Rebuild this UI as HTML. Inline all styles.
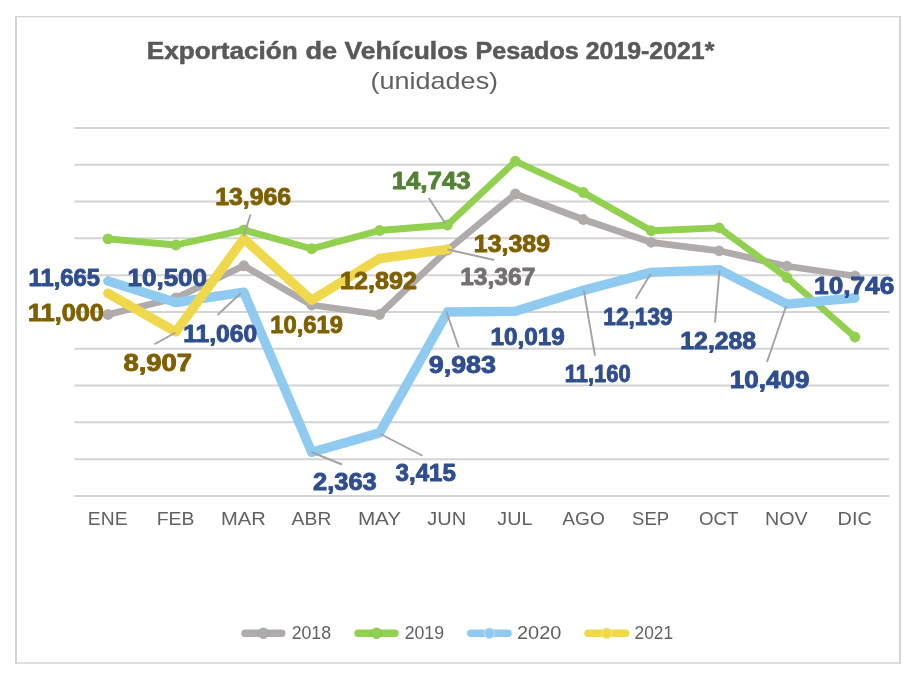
<!DOCTYPE html>
<html lang="es"><head><meta charset="utf-8"><title>Exportación de Vehículos Pesados 2019-2021</title>
<style>
html,body{margin:0;padding:0;background:#fff;}
body{width:920px;height:680px;overflow:hidden;font-family:"Liberation Sans",sans-serif;}
svg{display:block}
text{font-family:"Liberation Sans",sans-serif;}
</style></head><body>
<svg width="920" height="680" viewBox="0 0 920 680">
<rect x="0" y="0" width="920" height="680" fill="#fff"/>
<g stroke="#d3d3d3" fill="none">
<line x1="16" y1="16" x2="16" y2="663.8" stroke-width="1.9"/>
<line x1="900" y1="16" x2="900" y2="663.8" stroke-width="1.9"/>
<line x1="15.05" y1="16.6" x2="900.95" y2="16.6" stroke-width="1.2"/>
<line x1="15.05" y1="663" x2="900.95" y2="663" stroke-width="1.6"/>
</g>
<line x1="74.3" x2="889.2" y1="127.95" y2="127.95" stroke="#d4d4d4" stroke-width="2"/>
<line x1="74.3" x2="889.2" y1="164.75" y2="164.75" stroke="#d4d4d4" stroke-width="2"/>
<line x1="74.3" x2="889.2" y1="201.55" y2="201.55" stroke="#d4d4d4" stroke-width="2"/>
<line x1="74.3" x2="889.2" y1="238.35" y2="238.35" stroke="#d4d4d4" stroke-width="2"/>
<line x1="74.3" x2="889.2" y1="275.15" y2="275.15" stroke="#d4d4d4" stroke-width="2"/>
<line x1="74.3" x2="889.2" y1="311.95" y2="311.95" stroke="#d4d4d4" stroke-width="2"/>
<line x1="74.3" x2="889.2" y1="348.75" y2="348.75" stroke="#d4d4d4" stroke-width="2"/>
<line x1="74.3" x2="889.2" y1="385.55" y2="385.55" stroke="#d4d4d4" stroke-width="2"/>
<line x1="74.3" x2="889.2" y1="422.35" y2="422.35" stroke="#d4d4d4" stroke-width="2"/>
<line x1="74.3" x2="889.2" y1="459.15" y2="459.15" stroke="#d4d4d4" stroke-width="2"/>
<line x1="74.3" x2="889.2" y1="495.95" y2="495.95" stroke="#d4d4d4" stroke-width="2"/>
<text y="59.35" font-size="23.3" font-weight="bold" fill="#595959" stroke="#595959" stroke-width="0.5" stroke-linejoin="round"><tspan x="146.71" textLength="151.03" lengthAdjust="spacingAndGlyphs">Exportación</tspan> <tspan x="305.52" textLength="31.64" lengthAdjust="spacingAndGlyphs">de</tspan> <tspan x="344.62" textLength="123.36" lengthAdjust="spacingAndGlyphs">Vehículos</tspan> <tspan x="475.46" textLength="103.32" lengthAdjust="spacingAndGlyphs">Pesados</tspan> <tspan x="585.74" textLength="128.65" lengthAdjust="spacingAndGlyphs">2019-2021*</tspan></text>
<text x="370.60" y="88.75" font-size="24.00" fill="#616161" textLength="127.52" lengthAdjust="spacingAndGlyphs">(unidades)</text>
<polyline points="108.00,314.50 175.90,298.00 243.80,265.75 311.70,305.00 379.60,314.50 447.50,250.00 515.40,194.00 583.30,219.50 651.20,242.30 719.10,250.80 787.00,266.25 854.90,276.00" fill="none" stroke="#AFABAB" stroke-width="6.8" stroke-linecap="round" stroke-linejoin="round"/>
<circle cx="108.00" cy="314.50" r="5.4" fill="#AFABAB"/><circle cx="175.90" cy="298.00" r="5.4" fill="#AFABAB"/><circle cx="243.80" cy="265.75" r="5.4" fill="#AFABAB"/><circle cx="311.70" cy="305.00" r="5.4" fill="#AFABAB"/><circle cx="379.60" cy="314.50" r="5.4" fill="#AFABAB"/><circle cx="447.50" cy="250.00" r="5.4" fill="#AFABAB"/><circle cx="515.40" cy="194.00" r="5.4" fill="#AFABAB"/><circle cx="583.30" cy="219.50" r="5.4" fill="#AFABAB"/><circle cx="651.20" cy="242.30" r="5.4" fill="#AFABAB"/><circle cx="719.10" cy="250.80" r="5.4" fill="#AFABAB"/><circle cx="787.00" cy="266.25" r="5.4" fill="#AFABAB"/><circle cx="854.90" cy="276.00" r="5.4" fill="#AFABAB"/>
<polyline points="108.00,238.90 175.90,245.00 243.80,230.00 311.70,248.75 379.60,230.50 447.50,225.00 515.40,161.25 583.30,192.50 651.20,230.75 719.10,227.80 787.00,277.50 854.90,337.00" fill="none" stroke="#92D050" stroke-width="6.8" stroke-linecap="round" stroke-linejoin="round"/>
<circle cx="108.00" cy="238.90" r="5.4" fill="#92D050"/><circle cx="175.90" cy="245.00" r="5.4" fill="#92D050"/><circle cx="243.80" cy="230.00" r="5.4" fill="#92D050"/><circle cx="311.70" cy="248.75" r="5.4" fill="#92D050"/><circle cx="379.60" cy="230.50" r="5.4" fill="#92D050"/><circle cx="447.50" cy="225.00" r="5.4" fill="#92D050"/><circle cx="515.40" cy="161.25" r="5.4" fill="#92D050"/><circle cx="583.30" cy="192.50" r="5.4" fill="#92D050"/><circle cx="651.20" cy="230.75" r="5.4" fill="#92D050"/><circle cx="719.10" cy="227.80" r="5.4" fill="#92D050"/><circle cx="787.00" cy="277.50" r="5.4" fill="#92D050"/><circle cx="854.90" cy="337.00" r="5.4" fill="#92D050"/>
<polyline points="108.00,281.06 175.90,302.50 243.80,292.20 311.70,452.22 379.60,432.86 447.50,312.01 515.40,311.35 583.30,290.36 651.20,272.34 719.10,269.60 787.00,304.17 854.90,297.97" fill="none" stroke="#8FCBF0" stroke-width="9.4" stroke-linecap="round" stroke-linejoin="round"/>
<circle cx="108.00" cy="281.06" r="4.5" fill="#8FCBF0"/><circle cx="175.90" cy="302.50" r="4.5" fill="#8FCBF0"/><circle cx="243.80" cy="292.20" r="4.5" fill="#8FCBF0"/><circle cx="311.70" cy="452.22" r="4.5" fill="#8FCBF0"/><circle cx="379.60" cy="432.86" r="4.5" fill="#8FCBF0"/><circle cx="447.50" cy="312.01" r="4.5" fill="#8FCBF0"/><circle cx="515.40" cy="311.35" r="4.5" fill="#8FCBF0"/><circle cx="583.30" cy="290.36" r="4.5" fill="#8FCBF0"/><circle cx="651.20" cy="272.34" r="4.5" fill="#8FCBF0"/><circle cx="719.10" cy="269.60" r="4.5" fill="#8FCBF0"/><circle cx="787.00" cy="304.17" r="4.5" fill="#8FCBF0"/><circle cx="854.90" cy="297.97" r="4.5" fill="#8FCBF0"/>
<polyline points="108.00,293.30 175.90,331.81 243.80,238.73 311.70,300.31 379.60,258.49 447.50,249.34" fill="none" stroke="#EFD84C" stroke-width="9.4" stroke-linecap="round" stroke-linejoin="round"/>
<circle cx="108.00" cy="293.30" r="4.5" fill="#EFD84C"/><circle cx="175.90" cy="331.81" r="4.5" fill="#EFD84C"/><circle cx="243.80" cy="238.73" r="4.5" fill="#EFD84C"/><circle cx="311.70" cy="300.31" r="4.5" fill="#EFD84C"/><circle cx="379.60" cy="258.49" r="4.5" fill="#EFD84C"/><circle cx="447.50" cy="249.34" r="4.5" fill="#EFD84C"/>
<line x1="250.5" y1="214.5" x2="243.75" y2="236" stroke="#a3a3a3" stroke-width="1.9"/>
<line x1="217.5" y1="315" x2="241" y2="293" stroke="#a3a3a3" stroke-width="1.9"/>
<line x1="428.75" y1="198" x2="445.5" y2="223.75" stroke="#a3a3a3" stroke-width="1.9"/>
<line x1="447.5" y1="249.5" x2="494.25" y2="260" stroke="#a3a3a3" stroke-width="1.9"/>
<line x1="175.5" y1="332.5" x2="154.5" y2="344.25" stroke="#a3a3a3" stroke-width="1.9"/>
<line x1="311.25" y1="452" x2="342" y2="464.5" stroke="#a3a3a3" stroke-width="1.9"/>
<line x1="380" y1="433.75" x2="422.5" y2="455.75" stroke="#a3a3a3" stroke-width="1.9"/>
<line x1="446.25" y1="311.25" x2="458.75" y2="347.5" stroke="#a3a3a3" stroke-width="1.9"/>
<line x1="583.75" y1="290" x2="595" y2="355.75" stroke="#a3a3a3" stroke-width="1.9"/>
<line x1="650.75" y1="273.75" x2="635.5" y2="298.75" stroke="#a3a3a3" stroke-width="1.9"/>
<line x1="719.5" y1="270" x2="715" y2="322.5" stroke="#a3a3a3" stroke-width="1.9"/>
<line x1="786.25" y1="305.75" x2="767" y2="362" stroke="#a3a3a3" stroke-width="1.9"/>
<text font-weight="bold" x="28.48" y="285.60" font-size="23.20" fill="#2F4E8F" stroke="#2F4E8F" stroke-width="0.9" stroke-linejoin="round" textLength="71.67" lengthAdjust="spacingAndGlyphs">11,665</text>
<text font-weight="bold" x="127.49" y="286.40" font-size="23.20" fill="#2F4E8F" stroke="#2F4E8F" stroke-width="0.9" stroke-linejoin="round" textLength="79.57" lengthAdjust="spacingAndGlyphs">10,500</text>
<text font-weight="bold" x="28.06" y="320.50" font-size="23.20" fill="#7F6000" stroke="#7F6000" stroke-width="0.9" stroke-linejoin="round" textLength="75.64" lengthAdjust="spacingAndGlyphs">11,000</text>
<text font-weight="bold" x="215.31" y="204.50" font-size="23.20" fill="#7F6000" stroke="#7F6000" stroke-width="0.9" stroke-linejoin="round" textLength="75.79" lengthAdjust="spacingAndGlyphs">13,966</text>
<text font-weight="bold" x="270.20" y="332.50" font-size="23.20" fill="#7F6000" stroke="#7F6000" stroke-width="0.9" stroke-linejoin="round" textLength="72.71" lengthAdjust="spacingAndGlyphs">10,619</text>
<text font-weight="bold" x="183.19" y="341.60" font-size="23.20" fill="#2F4E8F" stroke="#2F4E8F" stroke-width="0.9" stroke-linejoin="round" textLength="73.93" lengthAdjust="spacingAndGlyphs">11,060</text>
<text font-weight="bold" x="340.04" y="288.50" font-size="23.20" fill="#7F6000" stroke="#7F6000" stroke-width="0.9" stroke-linejoin="round" textLength="76.87" lengthAdjust="spacingAndGlyphs">12,892</text>
<text font-weight="bold" x="391.65" y="188.50" font-size="23.20" fill="#548235" stroke="#548235" stroke-width="0.9" stroke-linejoin="round" textLength="78.98" lengthAdjust="spacingAndGlyphs">14,743</text>
<text font-weight="bold" x="473.87" y="251.50" font-size="23.20" fill="#7F6000" stroke="#7F6000" stroke-width="0.9" stroke-linejoin="round" textLength="76.15" lengthAdjust="spacingAndGlyphs">13,389</text>
<text font-weight="bold" x="460.17" y="285.40" font-size="23.20" fill="#767171" stroke="#767171" stroke-width="0.9" stroke-linejoin="round" textLength="75.22" lengthAdjust="spacingAndGlyphs">13,367</text>
<text font-weight="bold" x="123.44" y="370.60" font-size="23.20" fill="#7F6000" stroke="#7F6000" stroke-width="0.9" stroke-linejoin="round" textLength="68.55" lengthAdjust="spacingAndGlyphs">8,907</text>
<text font-weight="bold" x="313.08" y="490.20" font-size="23.20" fill="#2F4E8F" stroke="#2F4E8F" stroke-width="0.9" stroke-linejoin="round" textLength="63.64" lengthAdjust="spacingAndGlyphs">2,363</text>
<text font-weight="bold" x="395.56" y="481.40" font-size="23.20" fill="#2F4E8F" stroke="#2F4E8F" stroke-width="0.9" stroke-linejoin="round" textLength="60.43" lengthAdjust="spacingAndGlyphs">3,415</text>
<text font-weight="bold" x="490.45" y="345.40" font-size="23.20" fill="#2F4E8F" stroke="#2F4E8F" stroke-width="0.9" stroke-linejoin="round" textLength="74.36" lengthAdjust="spacingAndGlyphs">10,019</text>
<text font-weight="bold" x="428.82" y="373.40" font-size="23.20" fill="#2F4E8F" stroke="#2F4E8F" stroke-width="0.9" stroke-linejoin="round" textLength="67.14" lengthAdjust="spacingAndGlyphs">9,983</text>
<text font-weight="bold" x="564.78" y="381.70" font-size="23.20" fill="#2F4E8F" stroke="#2F4E8F" stroke-width="0.9" stroke-linejoin="round" textLength="66.01" lengthAdjust="spacingAndGlyphs">11,160</text>
<text font-weight="bold" x="603.34" y="325.10" font-size="23.20" fill="#2F4E8F" stroke="#2F4E8F" stroke-width="0.9" stroke-linejoin="round" textLength="69.22" lengthAdjust="spacingAndGlyphs">12,139</text>
<text font-weight="bold" x="680.35" y="349.10" font-size="23.20" fill="#2F4E8F" stroke="#2F4E8F" stroke-width="0.9" stroke-linejoin="round" textLength="75.76" lengthAdjust="spacingAndGlyphs">12,288</text>
<text font-weight="bold" x="729.82" y="387.60" font-size="23.20" fill="#2F4E8F" stroke="#2F4E8F" stroke-width="0.9" stroke-linejoin="round" textLength="79.65" lengthAdjust="spacingAndGlyphs">10,409</text>
<text font-weight="bold" x="814.12" y="294.40" font-size="23.20" fill="#2F4E8F" stroke="#2F4E8F" stroke-width="0.9" stroke-linejoin="round" textLength="80.09" lengthAdjust="spacingAndGlyphs">10,746</text>
<text x="87.88" y="524.60" font-size="17.90" fill="#616161" textLength="39.63" lengthAdjust="spacingAndGlyphs">ENE</text>
<text x="156.69" y="524.60" font-size="17.90" fill="#616161" textLength="37.66" lengthAdjust="spacingAndGlyphs">FEB</text>
<text x="221.00" y="524.60" font-size="17.90" fill="#616161" textLength="44.72" lengthAdjust="spacingAndGlyphs">MAR</text>
<text x="291.63" y="524.60" font-size="17.90" fill="#616161" textLength="39.71" lengthAdjust="spacingAndGlyphs">ABR</text>
<text x="357.92" y="524.60" font-size="17.90" fill="#616161" textLength="43.23" lengthAdjust="spacingAndGlyphs">MAY</text>
<text x="427.35" y="524.60" font-size="17.90" fill="#616161" textLength="38.79" lengthAdjust="spacingAndGlyphs">JUN</text>
<text x="497.36" y="524.60" font-size="17.90" fill="#616161" textLength="35.03" lengthAdjust="spacingAndGlyphs">JUL</text>
<text x="562.25" y="524.60" font-size="17.90" fill="#616161" textLength="42.50" lengthAdjust="spacingAndGlyphs">AGO</text>
<text x="632.10" y="524.60" font-size="17.90" fill="#616161" textLength="37.02" lengthAdjust="spacingAndGlyphs">SEP</text>
<text x="699.00" y="524.60" font-size="17.90" fill="#616161" textLength="39.39" lengthAdjust="spacingAndGlyphs">OCT</text>
<text x="765.13" y="524.60" font-size="17.90" fill="#616161" textLength="42.59" lengthAdjust="spacingAndGlyphs">NOV</text>
<text x="837.58" y="524.60" font-size="17.90" fill="#616161" textLength="34.15" lengthAdjust="spacingAndGlyphs">DIC</text>
<line x1="245.0" x2="281.75" y1="633.25" y2="633.25" stroke="#AFABAB" stroke-width="7.5" stroke-linecap="round"/><circle cx="263.375" cy="633.25" r="5.2" fill="#AFABAB" stroke="#a5a1a1" stroke-width="0.9"/>
<line x1="358.0" x2="395.0" y1="633.25" y2="633.25" stroke="#92D050" stroke-width="7.5" stroke-linecap="round"/><circle cx="376.5" cy="633.25" r="5.2" fill="#92D050" stroke="#86c247" stroke-width="0.9"/>
<line x1="470.75" x2="508.0" y1="633.25" y2="633.25" stroke="#8FCBF0" stroke-width="7.5" stroke-linecap="round"/><circle cx="489.375" cy="633.25" r="5.2" fill="#8FCBF0" stroke="#bfe2f8" stroke-width="0.9"/>
<line x1="588.0" x2="625.75" y1="633.25" y2="633.25" stroke="#EFD84C" stroke-width="7.5" stroke-linecap="round"/><circle cx="606.875" cy="633.25" r="5.2" fill="#EFD84C" stroke="#f6e98f" stroke-width="0.9"/>
<text x="291.66" y="638.75" font-size="18.10" fill="#616161" textLength="39.39" lengthAdjust="spacingAndGlyphs">2018</text>
<text x="404.66" y="638.75" font-size="18.10" fill="#616161" textLength="39.39" lengthAdjust="spacingAndGlyphs">2019</text>
<text x="517.00" y="638.75" font-size="18.10" fill="#616161" textLength="44.37" lengthAdjust="spacingAndGlyphs">2020</text>
<text x="634.52" y="638.75" font-size="18.10" fill="#616161" textLength="38.55" lengthAdjust="spacingAndGlyphs">2021</text>
</svg>
</body></html>
